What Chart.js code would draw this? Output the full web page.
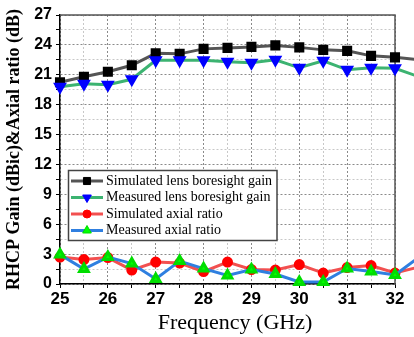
<!DOCTYPE html>
<html>
<head>
<meta charset="utf-8">
<script src="https://cdn.jsdelivr.net/npm/chart.js@4"></script>
<style>
  html, body { margin: 0; padding: 0; background: #fff; }
  canvas { display: block; }
</style>
</head>
<body>
<canvas id="myChart" width="414" height="337"></canvas>
<script>
// ----------------------------
// data
// ----------------------------
const freqs = [25, 25.5, 26, 26.5, 27, 27.5, 28, 28.5, 29, 29.5, 30, 30.5, 31, 31.5, 32, 32.5];
const simGain = [20.25, 20.8, 21.3, 21.95, 23.15, 23.1, 23.6, 23.7, 23.8, 23.95, 23.75, 23.5, 23.4, 22.9, 22.75, 22.5];
const measGain = [19.8, 20.1, 20.0, 20.55, 22.45, 22.45, 22.45, 22.3, 22.2, 22.5, 21.7, 22.4, 21.5, 21.7, 21.65, 20.8];
const simAR = [2.7, 2.45, 2.65, 1.4, 2.2, 2.1, 1.25, 2.2, 1.45, 1.4, 1.95, 1.1, 1.65, 1.85, 1.1, 1.7];
const measAR = [2.95, 1.5, 2.7, 2.05, 0.5, 2.3, 1.55, 0.85, 1.45, 1.0, 0.2, 0.2, 1.55, 1.25, 0.9, 2.7];
const seriesNames = [
    'Simulated lens boresight gain',
    'Measured lens boresight gain',
    'Simulated axial ratio',
    'Measured axial ratio'
];
const xTitle = 'Frequency (GHz)';
const yTitle = 'RHCP Gain (dBic)&Axial ratio (dB)';

const ctx = document.getElementById('myChart').getContext('2d');
const toPoints = (ys) => freqs.map((f, i) => ({ x: f, y: ys[i] }));

// frame on top / right like the Origin plot
const framePlugin = {
    id: 'frame',
    beforeDatasetsDraw(chart) {
        const { ctx, chartArea: a } = chart;
        ctx.save();
        ctx.strokeStyle = '#555';
        ctx.lineWidth = 1.5;
        ctx.beginPath();
        ctx.moveTo(a.left, a.top);
        ctx.lineTo(a.right, a.top);
        ctx.lineTo(a.right, a.bottom);
        ctx.stroke();
        ctx.restore();
    }
};

// boxed legend inside the plot
const boxLegend = {
    id: 'boxLegend',
    afterDraw(chart) {
        const { ctx } = chart;
        const rows = [181, 197.5, 214, 230.5];
        ctx.save();
        ctx.fillStyle = '#fff';
        ctx.fillRect(68.5, 170.5, 208.5, 70);
        ctx.strokeStyle = '#444';
        ctx.lineWidth = 1.5;
        ctx.strokeRect(68.5, 170.5, 208.5, 70);
        chart.data.datasets.forEach((ds, i) => {
            const y = rows[i];
            ctx.strokeStyle = ds.borderColor;
            ctx.lineWidth = 3;
            ctx.beginPath();
            ctx.moveTo(71, y);
            ctx.lineTo(103, y);
            ctx.stroke();
            ctx.fillStyle = ds.pointBackgroundColor;
            ctx.strokeStyle = ds.pointBorderColor;
            ctx.lineWidth = 1;
            Chart.helpers.drawPoint(ctx, {
                pointStyle: ds.pointStyle,
                rotation: ds.pointRotation || 0,
                radius: ds.pointRadius,
                borderWidth: 1
            }, 87, y);
            ctx.fillStyle = '#000';
            ctx.font = '14px "Liberation Serif", "Times New Roman", serif';
            ctx.textBaseline = 'middle';
            ctx.textAlign = 'left';
            ctx.fillText(seriesNames[i], 106, y);
        });
        ctx.restore();
    }
};

// x title, sits a bit right of centre in the original
const xTitlePlugin = {
    id: 'xTitle',
    afterDraw(chart) {
        const { ctx } = chart;
        ctx.save();
        ctx.fillStyle = '#000';
        ctx.font = '22px "Liberation Serif", "Times New Roman", serif';
        ctx.textAlign = 'center';
        ctx.textBaseline = 'middle';
        ctx.fillText(xTitle, 235, 323);
        ctx.restore();
    }
};

const chart = new Chart(ctx, {
    type: 'line',
    data: {
        datasets: [
            {
                label: seriesNames[0],
                data: toPoints(simGain),
                borderColor: '#555555',
                borderWidth: 3,
                pointStyle: 'rect',
                pointRadius: 5,
                pointBackgroundColor: '#000',
                pointBorderColor: '#000',
                order: 3
            },
            {
                label: seriesNames[1],
                data: toPoints(measGain),
                borderColor: '#3cb371',
                borderWidth: 3,
                pointStyle: 'triangle',
                pointRotation: 180,
                pointRadius: 5,
                pointBackgroundColor: '#0000ff',
                pointBorderColor: '#0000ff',
                order: 2
            },
            {
                label: seriesNames[2],
                data: toPoints(simAR),
                borderColor: '#f25050',
                borderWidth: 3,
                pointStyle: 'circle',
                pointRadius: 4,
                pointBackgroundColor: '#ff0000',
                pointBorderColor: '#ff0000',
                order: 1
            },
            {
                label: seriesNames[3],
                data: toPoints(measAR),
                borderColor: '#2f7fe0',
                borderWidth: 3,
                pointStyle: 'triangle',
                pointRadius: 5,
                pointBackgroundColor: '#00ff00',
                pointBorderColor: '#00dd00',
                order: 0
            }
        ]
    },
    options: {
        responsive: false,
        animation: false,
        layout: { padding: { left: 0, right: 19, top: 15, bottom: 0 } },
        datasets: { line: { clip: false, tension: 0 } },
        plugins: {
            legend: { display: false },
            tooltip: { enabled: false }
        },
        scales: {
            x: {
                type: 'linear',
                // range set here (not min/max) so the 32.5 point still gets drawn past the frame
                afterDataLimits: (s) => { s.min = 25; s.max = 32; },
                afterFit: (s) => { s.height = 53; },
                ticks: {
                    stepSize: 0.5,
                    autoSkip: false,
                    maxRotation: 0,
                    padding: 1,
                    color: '#000',
                    font: { family: '"Liberation Sans", Arial, sans-serif', size: 17, weight: 'bold' },
                    callback: (v) => Number.isInteger(v) ? String(v) : ''
                },
                grid: {
                    color: (c) => Number.isInteger(c.tick.value) ? '#8a8a8a' : '#c8c8c8',
                    lineWidth: 1,
                    tickLength: 4,
                    tickColor: '#000'
                },
                border: { display: true, color: '#000', width: 1.5, dash: [2, 2] }
            },
            y: {
                min: 0,
                max: 27,
                afterFit: (s) => { s.width = 60; },
                ticks: {
                    stepSize: 1.5,
                    autoSkip: false,
                    padding: 4,
                    color: '#000',
                    font: { family: '"Liberation Sans", Arial, sans-serif', size: 16, weight: 'bold' },
                    callback: (v) => (v % 3 === 0) ? String(v) : ''
                },
                grid: {
                    color: (c) => (c.tick.value % 3 === 0) ? '#8a8a8a' : '#c8c8c8',
                    lineWidth: 1,
                    tickLength: 4,
                    tickColor: '#000'
                },
                border: { display: true, color: '#000', width: 1.5, dash: [2, 2] },
                title: {
                    display: true,
                    text: yTitle,
                    color: '#000',
                    padding: { top: 4, bottom: 0 },
                    font: { family: '"Liberation Serif", "Times New Roman", serif', size: 18, weight: 'bold' }
                }
            }
        }
    },
    plugins: [framePlugin, boxLegend, xTitlePlugin]
});
</script>
</body>
</html>
